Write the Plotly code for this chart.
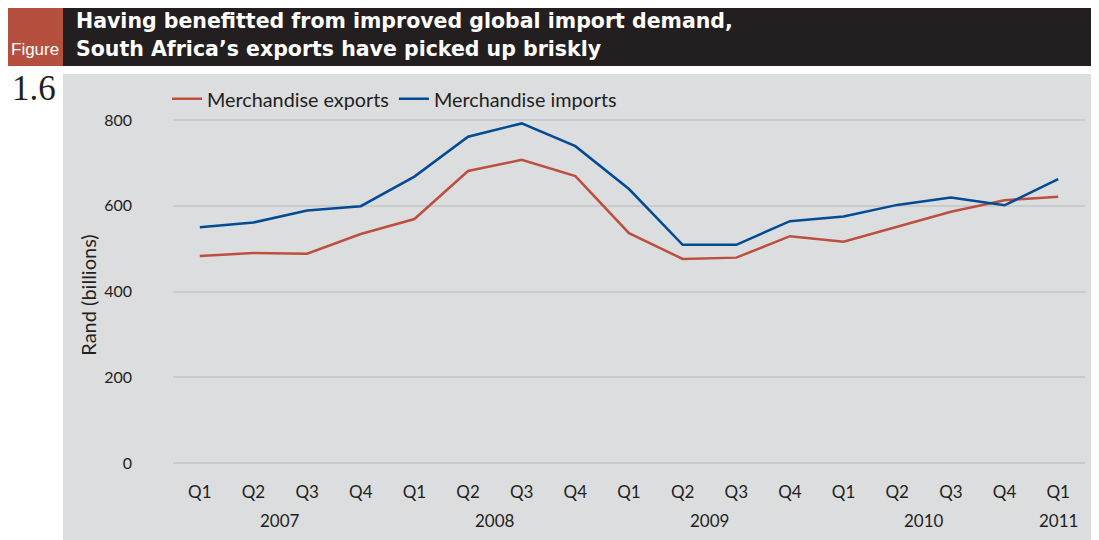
import plotly.graph_objects as go

# Data (Rand billions, quarterly)
years = ['2007'] * 4 + ['2008'] * 4 + ['2009'] * 4 + ['2010'] * 4 + ['2011']
quarters = ['Q1', 'Q2', 'Q3', 'Q4'] * 4 + ['Q1']
exports = [483, 490, 488, 534, 569, 681, 707, 669, 536, 476, 479, 529, 516, 551, 586, 613, 621]
imports = [550, 561, 589, 599, 668, 761, 792, 739, 639, 509, 509, 564, 575, 602, 619, 601, 662]
y_ticks = [0, 200, 400, 600, 800]

# page body has an 8px margin, so the figure is laid out from (8, 8)
OFF = 8
W, H = 1099 - OFF, 540 - OFF
ML, MR, MT, MB = 173 - OFF, 14, 110 - OFF, 60
PW, PH = W - ML - MR, H - MT - MB


def px_x(p):
    return (p - OFF - ML) / PW


def px_y(p):
    return 1 - (p - OFF - MT) / PH


TEXT = '#231f20'
GRAY_BG = '#dcdddf'
RED = '#b5503f'

idx = list(range(len(quarters)))

fig = go.Figure()

fig.add_trace(go.Scatter(
    x=idx, y=exports, mode='lines', name='Merchandise exports',
    line=dict(color='#bd4f3e', width=2.5)
))
fig.add_trace(go.Scatter(
    x=idx, y=imports, mode='lines', name='Merchandise imports',
    line=dict(color='#004b93', width=2.5)
))

shapes = [
    # grey panel
    dict(type='rect', xref='paper', yref='paper', layer='below',
         x0=px_x(63), x1=px_x(1095), y0=px_y(540), y1=px_y(74),
         fillcolor=GRAY_BG, line_width=0),
    # header bar
    dict(type='rect', xref='paper', yref='paper',
         x0=px_x(63), x1=px_x(1095), y0=px_y(66), y1=px_y(6),
         fillcolor=TEXT, line_width=0),
    # red figure box
    dict(type='rect', xref='paper', yref='paper',
         x0=px_x(7), x1=px_x(63), y0=px_y(66), y1=px_y(6),
         fillcolor=RED, line_width=0),
]

title_font = dict(family='DejaVu Sans', size=20.5, color='white', weight='bold')
annotations = [
    dict(text='Having benefitted from improved global import demand,',
         x=px_x(74), y=px_y(21), xref='paper', yref='paper', xanchor='left', yanchor='middle',
         showarrow=False, font=title_font),
    dict(text='South Africa’s exports have picked up briskly',
         x=px_x(74), y=px_y(49), xref='paper', yref='paper', xanchor='left', yanchor='middle',
         showarrow=False, font=title_font),
    dict(text='Figure',
         x=px_x(35), y=px_y(50), xref='paper', yref='paper', xanchor='center', yanchor='middle',
         showarrow=False, font=dict(family='Liberation Sans Narrow, Liberation Sans', size=17, color='white')),
    dict(text='1.6',
         x=px_x(34), y=px_y(89), xref='paper', yref='paper', xanchor='center', yanchor='middle',
         showarrow=False, font=dict(family='Liberation Serif', size=35, color=TEXT)),
]

# year labels centred under their quarters
for yr in dict.fromkeys(years):
    pos = [i for i, y in zip(idx, years) if y == yr]
    annotations.append(dict(
        text=yr, x=sum(pos) / len(pos), y=px_y(520), xref='x', yref='paper',
        xanchor='center', yanchor='middle', showarrow=False,
        font=dict(family='Lato', size=17, color=TEXT)
    ))

fig.update_layout(
    width=W, height=H,
    margin=dict(l=ML, r=MR, t=MT, b=MB),
    paper_bgcolor='white',
    plot_bgcolor=GRAY_BG,
    font=dict(family='Lato', size=16, color=TEXT),
    shapes=shapes,
    annotations=annotations,
    showlegend=True,
    legend=dict(orientation='h', x=px_x(167), y=px_y(99), xanchor='left', yanchor='middle',
                bgcolor='rgba(0,0,0,0)', font=dict(family='Lato', size=19.8, color=TEXT),
                itemwidth=30),
    xaxis=dict(
        tickvals=idx, ticktext=quarters, showgrid=False, zeroline=False,
        showline=False, ticks='', tickfont=dict(size=17, color=TEXT),
        range=[-0.5, 16.5]
    ),
    yaxis=dict(
        range=[(463 - 480) / 0.42875, (463 - 110) / 0.42875],
        tickvals=y_ticks, showgrid=True, gridcolor='#cacbcd', gridwidth=2,
        zeroline=False, showline=False, ticks='', ticklabelstandoff=40,
        tickfont=dict(size=16, color=TEXT),
        title=dict(text='Rand (billions)', standoff=2, font=dict(size=20, color=TEXT))
    ),
)

fig.write_html('out.html')
